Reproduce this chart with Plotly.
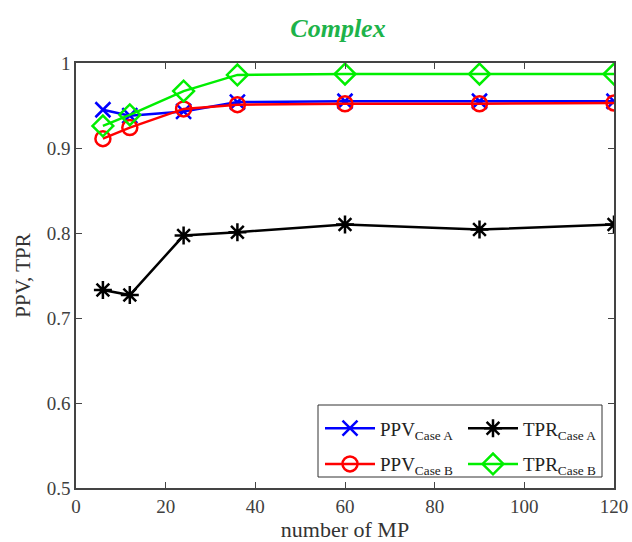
import plotly.graph_objects as go

mp = [6, 12, 24, 36, 60, 90, 120]
ppv_a = [0.945, 0.938, 0.943, 0.954, 0.955, 0.955, 0.955]
tpr_a = [0.733, 0.727, 0.797, 0.801, 0.810, 0.804, 0.810]
ppv_b = [0.911, 0.924, 0.946, 0.951, 0.952, 0.952, 0.953]
tpr_b = [0.926, 0.939, 0.967, 0.986, 0.987, 0.987, 0.987]

names = ["PPV<sub>Case A</sub>", "TPR<sub>Case A</sub>", "PPV<sub>Case B</sub>", "TPR<sub>Case B</sub>"]
series = [ppv_a, tpr_a, ppv_b, tpr_b]
colors = ["#0000ff", "#000000", "#ff0000", "#00ee00"]
symbols = ["x-thin-open", "asterisk-open", "circle-open", "diamond-open"]
sizes = [15, 15, 15, 16]
legends = ["legend", "legend2", "legend", "legend2"]
groups = ["g1", "g2", "g3", "g4"]

fig = go.Figure()
for nm, ys, c, s, sz, lg, gr in zip(names, series, colors, symbols, sizes, legends, groups):
    fig.add_trace(go.Scatter(
        x=mp, y=ys, name=nm, mode="lines+markers", legend=lg, legendgroup=gr,
        line=dict(color=c, width=2.5),
        marker=dict(symbol=s, size=sz, color=c, line=dict(color=c, width=2.5)),
    ))

font_serif = "Liberation Serif, Times New Roman, serif"
PW = 538.0
leg_common = dict(
    orientation="v", yanchor="top", y=0.185, xref="paper", yref="paper",
    bgcolor="rgba(0,0,0,0)", borderwidth=0, traceorder="grouped", tracegroupgap=8,
    itemwidth=50,
    font=dict(family=font_serif, size=19, color="#222222"),
)

fig.update_layout(
    width=632, height=542,
    margin=dict(l=76, r=18, t=63, b=54, autoexpand=False),
    paper_bgcolor="white", plot_bgcolor="white",
    font=dict(family=font_serif, size=19, color="#404040"),
    title=dict(text="<b><i>Complex</i></b>", x=338 / 632, xref="container", xanchor="center",
               y=1 - 28 / 542, yref="container", yanchor="middle",
               font=dict(family=font_serif, size=26, color="#1db34a")),
    showlegend=True,
    legend=dict(x=(320 - 76) / PW, xanchor="left", **leg_common),
    legend2=dict(x=(463 - 76) / PW, xanchor="left", **leg_common),
    shapes=[dict(type="rect", xref="paper", yref="paper",
                 x0=(318 - 76) / PW, x1=(602 - 76) / PW,
                 y0=(488 - 477) / 425, y1=(488 - 405) / 425,
                 line=dict(color="#333333", width=1), fillcolor="white", layer="below")],
    xaxis=dict(
        range=[0, 120], tickmode="array", tickvals=[0, 20, 40, 60, 80, 100, 120],
        ticks="inside", ticklen=6, tickwidth=1, tickcolor="#444444",
        showline=True, linecolor="#444444", linewidth=1.5, mirror="ticks",
        showgrid=False, zeroline=False, ticklabeloverflow="allow",
        title=dict(text="number of MP", standoff=4, font=dict(size=22, color="#333333")),
        tickfont=dict(size=19, color="#404040"),
    ),
    yaxis=dict(
        range=[0.5, 1.0], tickmode="array", tickvals=[0.5, 0.6, 0.7, 0.8, 0.9, 1.0],
        ticktext=["0.5", "0.6", "0.7", "0.8", "0.9", "1"],
        ticks="inside", ticklen=6, tickwidth=1, tickcolor="#444444",
        showline=True, linecolor="#444444", linewidth=1.5, mirror="ticks",
        showgrid=False, zeroline=False, ticklabeloverflow="allow",
        title=dict(text="PPV, TPR", standoff=10, font=dict(size=21, color="#333333")),
        tickfont=dict(size=19, color="#404040"),
    ),
)

fig.write_html("out.html", config={"displayModeBar": False},
               post_script="document.body.style.margin='0px';")
